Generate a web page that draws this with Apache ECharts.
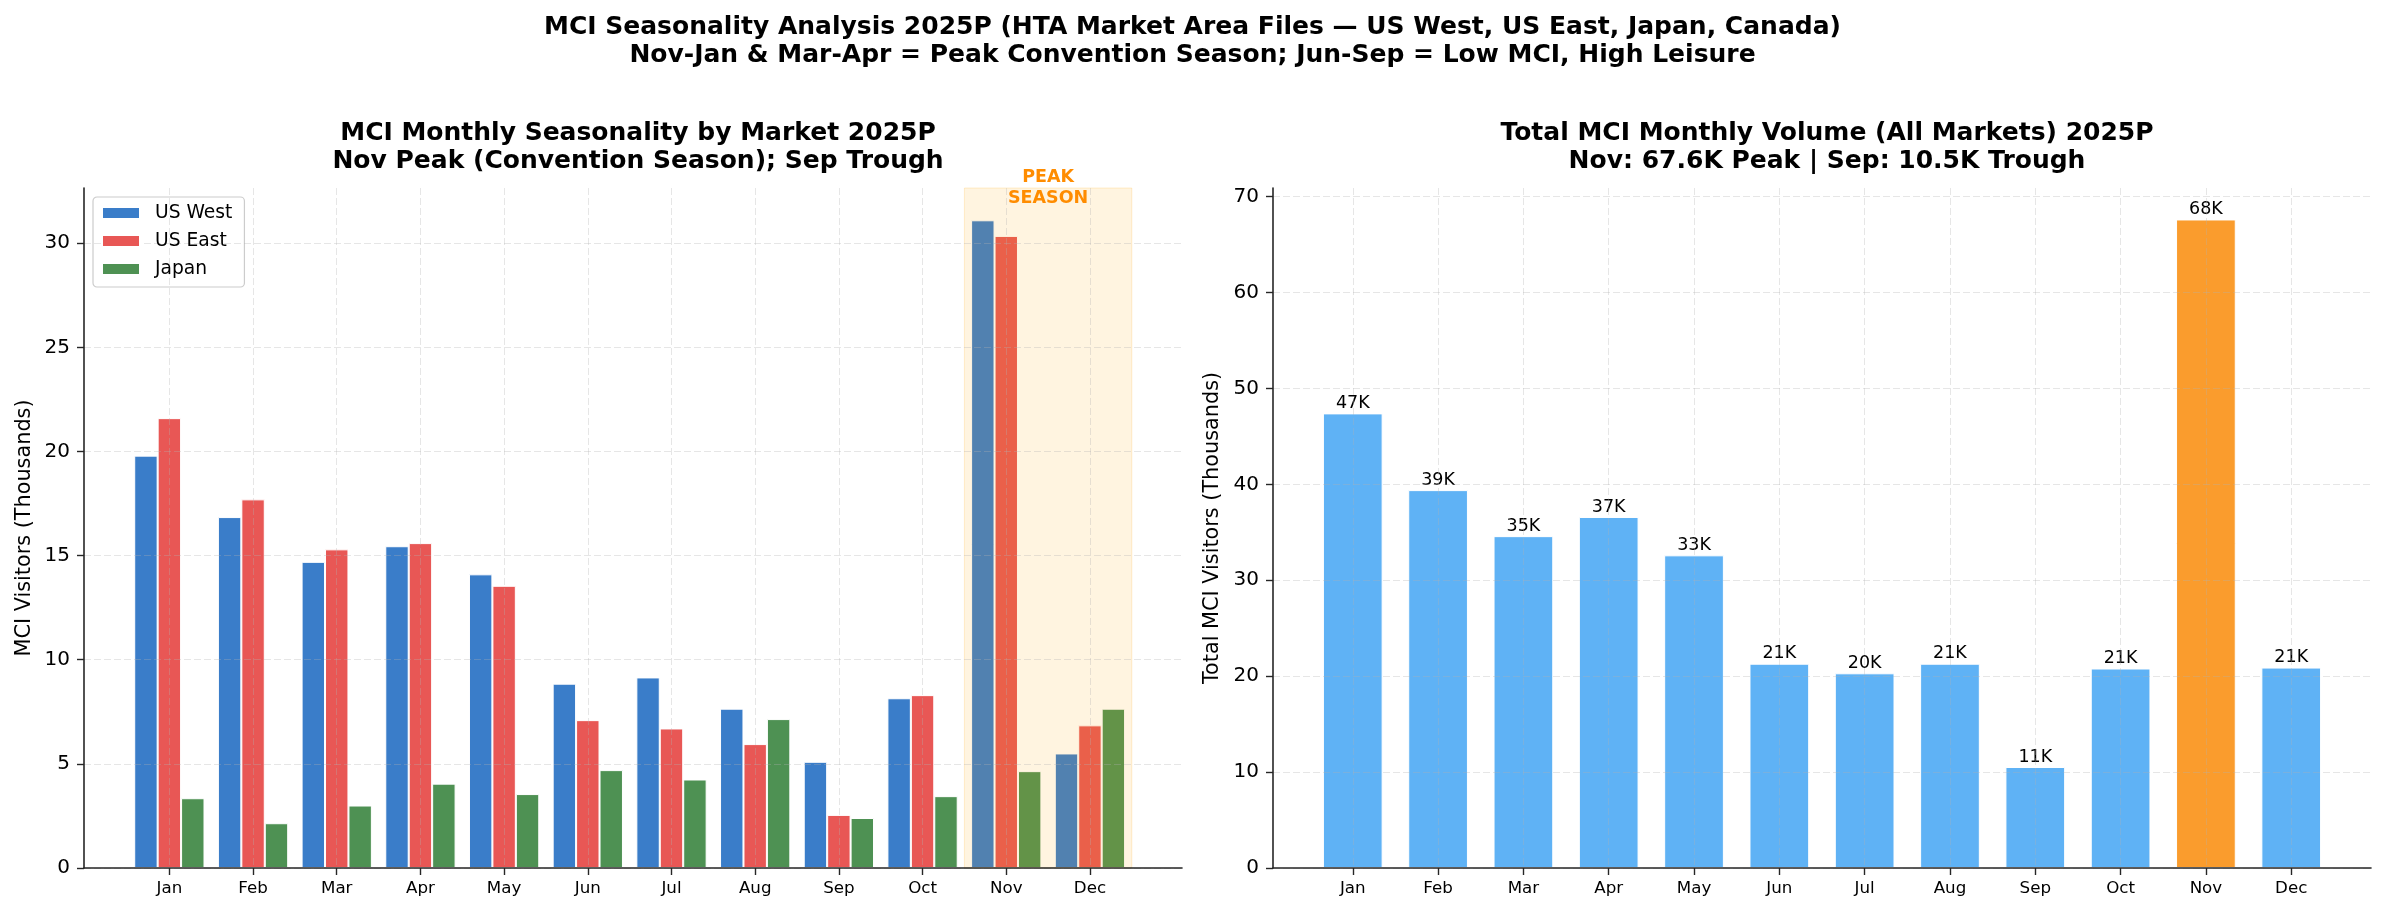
<!DOCTYPE html>
<html lang="en">
  <head>
    <meta charset="UTF-8" />
    <title>MCI Seasonality Analysis 2025P</title>
    <script src="https://cdn.jsdelivr.net/npm/echarts@6/dist/echarts.min.js"></script>
    <style>
      html,
      body {
        margin: 0;
        padding: 0;
        background: #fff;
      }
      #chart {
        width: 2385px;
        height: 916px;
      }
    </style>
  </head>
  <body>
    <div id="chart"></div>
    <script>
      // data (thousands of visitors)
      const months = ["Jan", "Feb", "Mar", "Apr", "May", "Jun", "Jul", "Aug", "Sep", "Oct", "Nov", "Dec"];
      const usWest = [19.8, 16.85, 14.7, 15.45, 14.1, 8.85, 9.15, 7.65, 5.1, 8.15, 31.1, 5.5];
      const usEast = [21.6, 17.7, 15.3, 15.6, 13.55, 7.1, 6.7, 5.95, 2.55, 8.3, 30.35, 6.85];
      const japan = [3.35, 2.15, 3.0, 4.05, 3.55, 4.7, 4.25, 7.15, 2.4, 3.45, 4.65, 7.65];
      const totalMci = [47.4, 39.4, 34.6, 36.6, 32.6, 21.3, 20.3, 21.3, 10.53, 20.8, 67.62, 20.9];
      const leftTicks = [0, 5, 10, 15, 20, 25, 30];
      const rightTicks = [0, 10, 20, 30, 40, 50, 60, 70];
      const peakSpan = [9.5, 11.5];
      const peakMonth = "Nov";

      const font = "DejaVu Sans";
      const monthIdx = months.map((m, i) => i);
      const toPairs = (arr) => arr.map((v, i) => [i, v]);

      const gridLine = {
        show: true,
        lineStyle: { color: "rgba(176,176,176,0.32)", type: [7, 3], width: 1 },
      };
      const spine = { show: true, onZero: false, lineStyle: { color: "#262626", width: 1.6 } };
      const tick = { show: true, length: 7, lineStyle: { color: "#262626", width: 1.4 } };
      const titleStyle = { fontFamily: font, fontSize: 25, fontWeight: "bold", lineHeight: 27.5, color: "#000" };

      function xAxisFor(gridIndex, min, max) {
        return {
          type: "value",
          gridIndex: gridIndex,
          min: min,
          max: max,
          z: 4,
          axisLine: spine,
          axisTick: Object.assign({ customValues: monthIdx }, tick),
          axisLabel: {
            customValues: monthIdx,
            formatter: (v) => months[v],
            fontFamily: font,
            fontSize: 16.7,
            color: "#000",
            margin: 12,
          },
          splitLine: gridLine,
        };
      }

      function yAxisFor(gridIndex, max, ticks, name, nameGap) {
        return {
          type: "value",
          gridIndex: gridIndex,
          min: 0,
          max: max,
          z: 4,
          name: name,
          nameLocation: "middle",
          nameGap: nameGap,
          nameTextStyle: { fontFamily: font, fontSize: 20.8, color: "#000" },
          axisLine: spine,
          axisTick: Object.assign({ customValues: ticks }, tick),
          axisLabel: {
            customValues: ticks,
            fontFamily: font,
            fontSize: 20,
            color: "#000",
            margin: 14,
          },
          splitLine: gridLine,
        };
      }

      function marketBar(name, arr, color) {
        return {
          name: name,
          type: "bar",
          xAxisIndex: 0,
          yAxisIndex: 0,
          barWidth: "28%",
          barGap: "0%",
          clip: false,
          itemStyle: { color: color, borderColor: "#fff", borderWidth: 1 },
          data: toPairs(arr),
        };
      }

      const chart = echarts.init(document.getElementById("chart"));
      const westSeries = marketBar("US West", usWest, "#3a7dc9");
      westSeries.markArea = {
        silent: true,
        z: 3,
        itemStyle: {
          color: "rgba(255,165,0,0.12)",
          borderColor: "rgba(255,165,0,0.18)",
          borderWidth: 1,
        },
        label: {
          show: true,
          position: "insideTop",
          offset: [0, -26],
          formatter: "PEAK\nSEASON",
          fontFamily: font,
          fontSize: 17.5,
          lineHeight: 21,
          fontWeight: "bold",
          color: "#ff8c00",
        },
        data: [[{ xAxis: peakSpan[0] }, { xAxis: peakSpan[1] }]],
      };

      const option = {
        animation: false,
        backgroundColor: "#fff",
        title: [
          {
            text:
              "MCI Seasonality Analysis 2025P (HTA Market Area Files \u2014 US West, US East, Japan, Canada)\n" +
              "Nov-Jan & Mar-Apr = Peak Convention Season; Jun-Sep = Low MCI, High Leisure",
            left: "center",
            top: 9,
            textStyle: titleStyle,
          },
          {
            text: "MCI Monthly Seasonality by Market 2025P\nNov Peak (Convention Season); Sep Trough",
            left: 633,
            textAlign: "center",
            top: 115,
            textStyle: titleStyle,
          },
          {
            text: "Total MCI Monthly Volume (All Markets) 2025P\nNov: 67.6K Peak | Sep: 10.5K Trough",
            left: 1822,
            textAlign: "center",
            top: 115,
            textStyle: titleStyle,
          },
        ],
        legend: {
          data: ["US West", "US East", "Japan"],
          orient: "vertical",
          left: 93,
          top: 197,
          icon: "rect",
          itemWidth: 38,
          itemHeight: 12,
          itemGap: 8,
          padding: [6, 12, 8, 8],
          borderColor: "#cccccc",
          borderWidth: 1.2,
          borderRadius: 4,
          backgroundColor: "rgba(255,255,255,0.8)",
          textStyle: { fontFamily: font, fontSize: 18.7, lineHeight: 20, color: "#000", padding: [0, 0, 0, 10] },
        },
        grid: [
          { left: 84, right: 1203, top: 188, bottom: 48 },
          { left: 1273, right: 14, top: 188, bottom: 48 },
        ],
        xAxis: [xAxisFor(0, -1.02, 12.1), xAxisFor(1, -0.935, 11.935)],
        yAxis: [
          yAxisFor(0, 32.65, leftTicks, "MCI Visitors (Thousands)", 49),
          yAxisFor(1, 70.9, rightTicks, "Total MCI Visitors (Thousands)", 50),
        ],
        series: [
          westSeries,
          marketBar("US East", usEast, "#e85755"),
          marketBar("Japan", japan, "#4e9153"),
          {
            name: "Total MCI",
            type: "bar",
            xAxisIndex: 1,
            yAxisIndex: 1,
            barWidth: "70%",
            itemStyle: {
              color: (p) => (months[p.dataIndex] === peakMonth ? "#fa9c2d" : "#5fb2f5"),
              borderColor: "#fff",
              borderWidth: 1,
            },
            label: {
              show: true,
              position: "top",
              distance: 1,
              fontFamily: font,
              fontSize: 17.5,
              color: "#000",
              formatter: (p) => Math.round(p.value[1]) + "K",
            },
            data: toPairs(totalMci),
          },
        ],
      };
      chart.setOption(option);
    </script>
  </body>
</html>
